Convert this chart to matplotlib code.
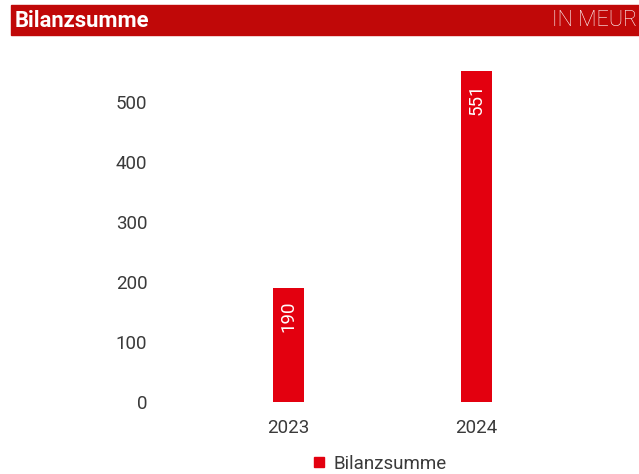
import matplotlib
matplotlib.use("Agg")
import matplotlib.pyplot as plt
from matplotlib.patches import Rectangle
from matplotlib.lines import Line2D

# data
years = ["2023", "2024"]
bilanzsumme = [190, 551]
y_ticks = [0, 100, 200, 300, 400, 500]

title = "Bilanzsumme"
unit = "IN MEUR"
series_name = "Bilanzsumme"

bar_color = "#e3000f"
head_color = "#c00808"
text_color = "#3a3a3a"

plt.rcParams["font.family"] = ["Roboto", "DejaVu Sans"]

W, H = 639, 474
fig = plt.figure(figsize=(W / 100, H / 100), dpi=100)

# header band
fig.patches.append(Rectangle((11 / W, 1 - 35 / H), 1 - 11 / W, 30 / H,
                             transform=fig.transFigure, color=head_color, zorder=0))
fig.text(15 / W, 1 - 21 / H, title, color="white", fontsize=15.8,
         fontweight="bold", ha="left", va="center")
fig.text(637 / W, 1 - 21 / H, unit, color="white", fontsize=15.5,
         fontweight="light", ha="right", va="center")

# axes: x in category units, bars centred at 0 and 1
left_px, right_px = 157, 589
bottom_px, top_px = 402, 41.6
ax = fig.add_axes([left_px / W, 1 - bottom_px / H,
                   (right_px - left_px) / W, (bottom_px - top_px) / H])

x = list(range(len(years)))
bars = ax.bar(x, bilanzsumme, width=0.165, color=bar_color, zorder=2)

for b, v in zip(bars, bilanzsumme):
    ax.annotate(str(v), xy=(b.get_x() + b.get_width() / 2, v),
                xytext=(0, -9), textcoords="offset points",
                rotation=90, ha="center", va="top", color="white",
                fontsize=13.5)

ax.set_xlim(-0.7, 1.6)
ax.set_ylim(0, 600)
ax.set_xticks(x)
ax.set_xticklabels(years)
ax.set_yticks(y_ticks)
ax.tick_params(axis="both", length=0, labelsize=13.5, labelcolor=text_color)
ax.tick_params(axis="x", pad=12)
ax.tick_params(axis="y", pad=7)
for s in ax.spines.values():
    s.set_visible(False)

handle = Line2D([], [], marker="s", linestyle="none", markersize=7.5,
                markerfacecolor=bar_color, markeredgecolor=bar_color)
leg = fig.legend([handle], [series_name], loc="center",
                 bbox_to_anchor=(378 / W, 1 - 464 / H), frameon=False,
                 handlelength=1.0, handletextpad=0.3,
                 prop={"size": 13.5})
for t in leg.get_texts():
    t.set_color(text_color)

fig.savefig("out.png", dpi=100)
